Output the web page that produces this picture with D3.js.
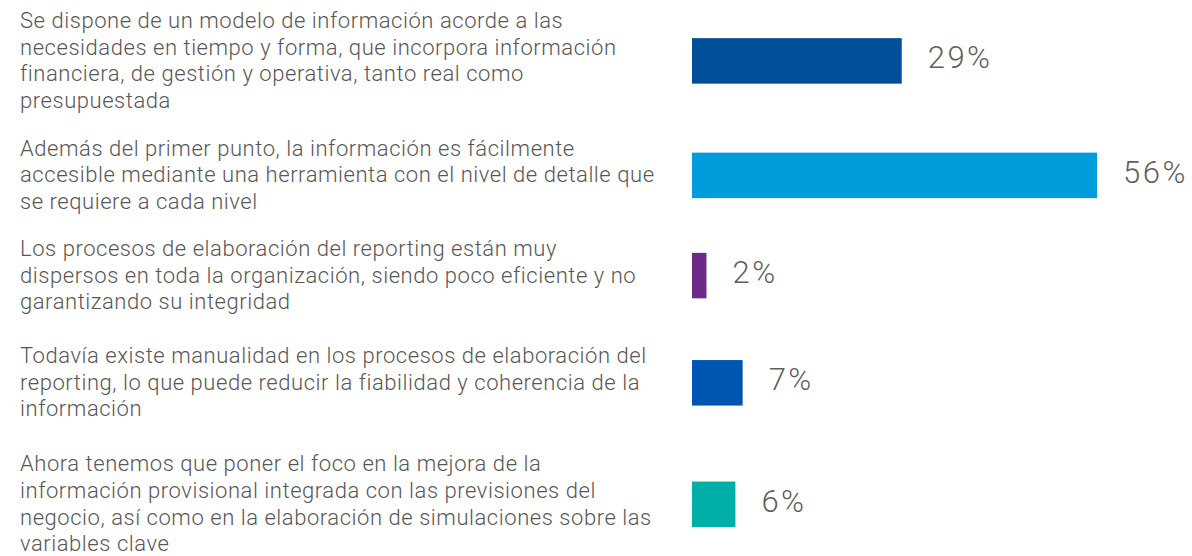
<!DOCTYPE html>
<html>
<head>
<meta charset="utf-8">
<script src="https://cdn.jsdelivr.net/npm/d3@7"></script>
<style>
  html, body { margin: 0; padding: 0; background: #fff; }
  svg { display: block; }
  .cat { font-family: Roboto, "Liberation Sans", Arial, sans-serif; font-weight: 300; font-size: 22px; letter-spacing: 0.55px; fill: #575757; }
  .val { font-family: Roboto, "Liberation Sans", Arial, sans-serif; font-weight: 300; font-size: 31px; letter-spacing: 2.5px; fill: #5f5f5f; }
</style>
</head>
<body>
<svg id="chart" width="1192" height="556"></svg>
<script>
const categories = [
  ["Se dispone de un modelo de información acorde a las",
   "necesidades en tiempo y forma, que incorpora información",
   "financiera, de gestión y operativa, tanto real como",
   "presupuestada"],
  ["Además del primer punto, la información es fácilmente",
   "accesible mediante una herramienta con el nivel de detalle que",
   "se requiere a cada nivel"],
  ["Los procesos de elaboración del reporting están muy",
   "dispersos en toda la organización, siendo poco eficiente y no",
   "garantizando su integridad"],
  ["Todavía existe manualidad en los procesos de elaboración del",
   "reporting, lo que puede reducir la fiabilidad y coherencia de la",
   "información"],
  ["Ahora tenemos que poner el foco en la mejora de la",
   "información provisional integrada con las previsiones del",
   "negocio, así como en la elaboración de simulaciones sobre las",
   "variables clave"]
];
const values = [29, 56, 2, 7, 6];
const colors = ["#004f98", "#009cdc", "#6f2a87", "#0055b1", "#00b0a6"];

// layout
const textX = 20, barX = 692, lineH = 26.6, firstBase = 28;
const gaps = [48, 47, 54, 55];   // space between text blocks
const barH = 45.5;

const svg = d3.select("#chart");
const x = d3.scaleLinear().domain([0, 56]).range([0, 405]);

// block first-baseline positions
let bases = [], y0 = firstBase;
categories.forEach((lines, i) => {
  bases.push(y0);
  y0 += (lines.length - 1) * lineH + (gaps[i] || 0);
});

const rows = categories.map((lines, i) => ({
  lines, value: values[i], color: colors[i], base: bases[i],
  mid: bases[i] + (lines.length - 1) * lineH / 2 - 7
}));

const row = svg.selectAll("g.row").data(rows).enter().append("g").attr("class", "row");

row.append("text").attr("class", "cat")
  .selectAll("tspan").data(d => d.lines.map((t, j) => ({t, y: d.base + j * lineH})))
  .enter().append("tspan")
  .attr("x", textX).attr("y", d => d.y).text(d => d.t);

row.append("rect")
  .attr("x", barX).attr("y", d => d.mid - barH / 2)
  .attr("width", d => x(d.value)).attr("height", barH)
  .attr("fill", d => d.color);

row.append("text").attr("class", "val")
  .attr("x", d => barX + x(d.value) + 26)
  .attr("y", d => d.mid + 7.5)
  .text(d => d.value + "%");
</script>
</body>
</html>
